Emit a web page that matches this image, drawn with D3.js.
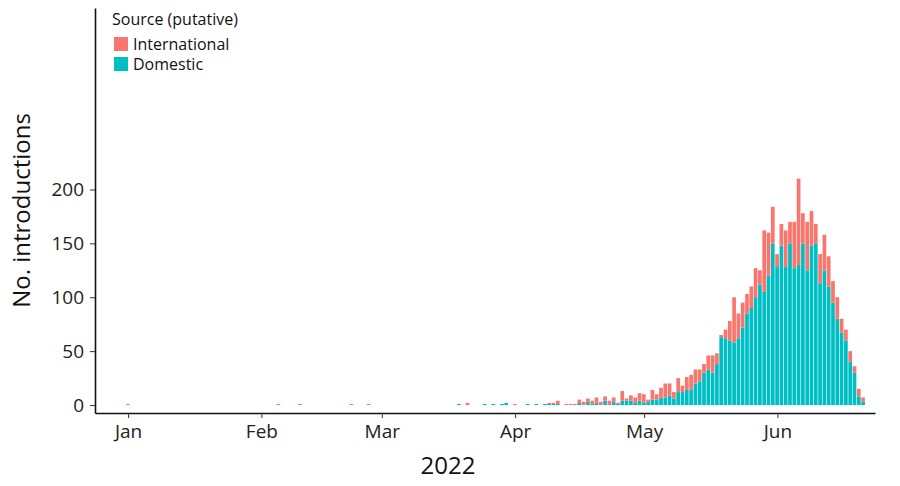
<!DOCTYPE html>
<html>
<head>
<meta charset="utf-8">
<script src="https://d3js.org/d3.v7.min.js"></script>
<style>
  body { margin: 0; background: white; }
  text { font-family: "Open Sans", "DejaVu Sans", sans-serif; }
</style>
</head>
<body>
<svg id="chart"></svg>
<script>
  var w = 900, h = 486;
  var margin = {left: 95, right: 25, top: 8, bottom: 73};

  // day of year (0 = Jan 1) for the month ticks
  var monthDays = [0, 31, 59, 90, 120, 151];
  var monthLabels = ["Jan", "Feb", "Mar", "Apr", "May", "Jun"];
  var yTicks = [0, 50, 100, 150, 200];

  // days with introductions (0 = Jan 1, 2022)
  var days = [0, 35, 40, 52, 56, 77, 79, 83, 85, 87, 88, 90, 93, 95,
    97, 98, 99, 100, 102, 103, 104, 105, 106, 107, 108, 109, 110, 111, 112, 113, 114,
    115, 116, 117, 118, 119, 120, 121, 122, 123, 124, 125, 126, 127, 128, 129, 130,
    131, 132, 133, 134, 135, 136, 137, 138, 139, 140, 141, 142, 143, 144, 145, 146,
    147, 148, 149, 150, 151, 152, 153, 154, 155, 156, 157, 158, 159, 160, 161, 162,
    163, 164, 165, 166, 167, 168, 169, 170, 171];
  var domestic = [0, 0, 0, 0, 0, 1, 0, 1, 1, 1, 2, 0, 1, 1,
    1, 1, 1, 1, 0, 0, 0, 2, 0, 3, 1, 2, 0, 4, 0, 3, 1,
    4, 4, 4, 2, 4, 2, 3, 5, 5, 7, 7, 9, 6, 12, 12, 14,
    14, 20, 22, 30, 33, 30, 38, 63, 62, 60, 58, 62, 72, 85, 90, 100,
    112, 105, 120, 150, 128, 148, 128, 150, 127, 130, 150, 125, 148, 150, 113, 125,
    110, 95, 80, 67, 60, 40, 30, 8, 3];
  var international = [1, 1, 1, 1, 1, 0, 2, 0, 0, 0, 0, 1, 0, 0,
    0, 1, 1, 3, 1, 1, 1, 3, 3, 3, 3, 5, 3, 4, 4, 4, 1,
    9, 2, 5, 5, 7, 8, 2, 9, 5, 9, 13, 11, 6, 13, 6, 12,
    14, 13, 11, 8, 13, 16, 10, 2, 8, 18, 42, 23, 23, 18, 20, 27,
    13, 57, 40, 34, 12, 20, 34, 20, 43, 80, 28, 45, 32, 18, 27, 33,
    28, 20, 20, 13, 10, 10, 6, 7, 4];

  var svg = d3.select("#chart").attr("width", w).attr("height", h);

  var x = d3.scaleLinear().domain([-7.7, 173.7]).range([margin.left, w - margin.right]);
  var y = d3.scaleLinear().domain([-7.4, 368.4]).range([h - margin.bottom, margin.top]);
  var bw = x(1) - x(0);

  var data = days.map(function(d, i) {
    return {day: d, dom: domestic[i], intl: international[i]};
  });

  // bars: domestic at the bottom, international stacked on top
  svg.append("g").selectAll("rect").data(data).enter().append("rect")
    .attr("x", function(d) { return x(d.day) - bw / 2; })
    .attr("width", bw - 0.6)
    .attr("y", function(d) { return y(d.dom); })
    .attr("height", function(d) { return y(0) - y(d.dom); })
    .attr("fill", "#00BFC4");
  svg.append("g").selectAll("rect").data(data).enter().append("rect")
    .attr("x", function(d) { return x(d.day) - bw / 2; })
    .attr("width", bw - 0.6)
    .attr("y", function(d) { return y(d.dom + d.intl); })
    .attr("height", function(d) { return y(d.dom) - y(d.dom + d.intl); })
    .attr("fill", "#F8766D");

  // axes
  var xAxis = d3.axisBottom(x).tickValues(monthDays)
    .tickFormat(function(d, i) { return monthLabels[i]; }).tickSize(5).tickPadding(7).tickSizeOuter(0);
  var gx = svg.append("g").attr("transform", "translate(0," + (h - margin.bottom) + ")").call(xAxis);
  var yAxis = d3.axisLeft(y).tickValues(yTicks).tickSize(5).tickPadding(6).tickSizeOuter(0);
  var gy = svg.append("g").attr("transform", "translate(" + margin.left + ",0)").call(yAxis);
  [gx, gy].forEach(function(g) {
    g.select(".domain").attr("stroke", "#111").attr("stroke-width", 1.6);
    g.selectAll(".tick line").attr("stroke", "#333");
    g.selectAll(".tick text").attr("font-size", 19).attr("fill", "#222")
      .style("font-family", "'Open Sans', sans-serif");
  });

  // titles
  svg.append("text").attr("x", 448).attr("y", 474).attr("text-anchor", "middle")
    .attr("font-size", 24).attr("fill", "#111").text("2022");
  svg.append("text").attr("transform", "translate(30," + ((margin.top + h - margin.bottom) / 2) + ") rotate(-90)")
    .attr("text-anchor", "middle").attr("font-size", 24).attr("fill", "#111").text("No. introductions");

  // legend
  var leg = svg.append("g").attr("transform", "translate(112,0)");
  leg.append("text").attr("x", 0).attr("y", 25).attr("font-size", 16).attr("fill", "#111").text("Source (putative)");
  var legItems = [["International", "#F8766D"], ["Domestic", "#00BFC4"]];
  legItems.forEach(function(it, i) {
    leg.append("rect").attr("x", 2).attr("y", 37 + i * 20).attr("width", 14).attr("height", 14).attr("fill", it[1]);
    leg.append("text").attr("x", 21).attr("y", 50 + i * 20).attr("font-size", 16).attr("fill", "#111").text(it[0]);
  });
</script>
</body>
</html>
